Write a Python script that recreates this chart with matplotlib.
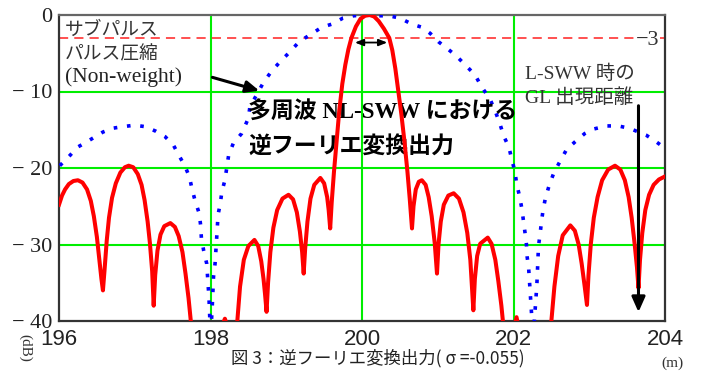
import matplotlib
matplotlib.use("Agg")
import matplotlib.pyplot as plt

plt.rcParams['font.family'] = ['Noto Sans CJK JP', 'DejaVu Sans']

# ---- data ----
red_x = [196.00, 196.04, 196.08, 196.13, 196.19, 196.25, 196.31, 196.37, 196.42, 196.46,
         196.50, 196.53, 196.56, 196.58,
         196.60, 196.63, 196.66, 196.70, 196.75, 196.81, 196.87, 196.92, 196.98, 197.04,
         197.09, 197.13, 197.17, 197.20, 197.23, 197.25,
         197.27, 197.30, 197.34, 197.39, 197.47, 197.53, 197.58, 197.63, 197.67, 197.71,
         197.75, 197.80,
         197.90, 198.05, 198.12, 198.19, 198.25, 198.31,
         198.35, 198.39, 198.44, 198.50, 198.58, 198.63, 198.67, 198.70, 198.72, 198.74,
         198.76, 198.79, 198.83, 198.88, 198.95, 199.03, 199.09, 199.14, 199.18, 199.21,
         199.23,
         199.25, 199.28, 199.32, 199.37, 199.45, 199.50, 199.54, 199.56, 199.58,
         199.60, 199.63, 199.66, 199.70, 199.74, 199.78, 199.82, 199.86, 199.92, 199.98,
         200.04, 200.10, 200.16, 200.22, 200.29, 200.36, 200.40, 200.44, 200.48, 200.52,
         200.56, 200.60, 200.63, 200.66,
         200.68, 200.71, 200.75, 200.79, 200.84, 200.88, 200.92, 200.96, 200.99,
         201.01, 201.04, 201.08, 201.14, 201.21, 201.28, 201.34, 201.39, 201.43, 201.47,
         201.49, 201.52, 201.56, 201.66, 201.71, 201.76, 201.80, 201.84, 201.88, 201.94,
         201.99, 202.04, 202.09, 202.20,
         202.47, 202.50, 202.54, 202.59, 202.65, 202.75, 202.81, 202.86, 202.90, 202.94,
         202.97,
         202.99, 203.02, 203.06, 203.11, 203.17, 203.25, 203.34, 203.41, 203.47, 203.52,
         203.56, 203.60, 203.63, 203.65,
         203.67, 203.70, 203.74, 203.79, 203.85, 203.92, 204.00]
red_db = [-24.8, -23.6, -22.8, -22.1, -21.7, -21.6, -21.9, -22.8, -24.3, -26.3,
          -29.0, -31.8, -34.5, -36.0,
          -33.5, -29.5, -26.5, -23.9, -22.0, -20.6, -19.9, -19.7, -19.9, -20.8,
          -22.2, -24.2, -27.0, -29.8, -33.5, -38.0,
          -34.0, -30.8, -28.7, -27.6, -27.2, -27.7, -28.9, -31.0, -33.8, -37.0,
          -41.0, -50.0,
          -45.0, -48.0, -41.5, -39.7, -41.5, -50.0,
          -40.5, -35.5, -32.0, -30.2, -29.4, -30.2, -32.2, -34.5, -36.5, -38.8,
          -35.0, -31.0, -27.8, -25.5, -24.0, -23.5, -24.1, -25.8, -28.3, -31.0,
          -33.8,
          -30.5, -27.0, -24.0, -22.2, -21.3, -22.0, -23.8, -25.5, -27.9,
          -24.5, -20.5, -17.0, -12.5, -9.0, -6.5, -4.5, -3.0, -1.5, -0.5,
          -0.1, 0.0, -0.2, -0.8, -1.8, -3.0, -4.6, -7.0, -10.0, -13.0,
          -16.5, -20.5, -24.0, -27.9,
          -25.0, -22.8, -21.8, -21.6, -22.2, -23.8, -26.3, -29.8, -33.8,
          -30.0, -27.0, -24.8, -23.6, -23.3, -24.0, -25.8, -28.5, -32.0, -38.6,
          -34.5, -31.5, -29.9, -29.1, -29.9, -32.0, -34.8, -38.0, -42.0, -50.0,
          -42.0, -39.5, -42.0, -55.0,
          -44.0, -40.0, -35.5, -31.5, -28.8, -27.5, -28.2, -30.0, -32.5, -35.5,
          -37.9,
          -34.0, -30.0, -26.5, -23.8, -21.6, -20.2, -19.7, -20.2, -21.6, -23.8,
          -26.5, -30.0, -33.0, -35.7,
          -32.0, -28.5, -25.5, -23.5, -22.2, -21.5, -21.1]

blue_x = [196.01, 196.15, 196.24, 196.33, 196.48, 196.58, 196.71, 196.84, 197.00, 197.14,
          197.28, 197.40, 197.51, 197.58, 197.66, 197.72, 197.76, 197.80, 197.85, 197.87,
          197.88, 197.91, 197.95, 197.97, 197.98, 198.00, 198.02, 198.04, 198.06, 198.08,
          198.10, 198.13, 198.15, 198.19, 198.24, 198.30, 198.41, 198.50, 198.52, 198.60,
          198.70, 198.81, 198.92, 199.04, 199.17, 199.36, 199.47, 199.60, 199.75, 199.89,
          200.04, 200.19, 200.35, 200.50, 200.66, 200.79, 200.90, 201.01, 201.14, 201.25,
          201.38, 201.49, 201.58, 201.69, 201.76, 201.82, 201.87, 201.94, 201.98, 202.02,
          202.04, 202.08, 202.11, 202.13, 202.15, 202.17, 202.18, 202.20, 202.22, 202.24,
          202.26, 202.29, 202.30, 202.31, 202.33, 202.35, 202.37, 202.39, 202.42, 202.47,
          202.53, 202.61, 202.70, 202.81, 202.94, 203.06, 203.23, 203.38, 203.53, 203.65,
          203.75, 203.86, 203.97, 204.00]
blue_db = [-19.7, -18.3, -17.3, -16.8, -15.9, -15.3, -14.8, -14.6, -14.4, -14.6,
           -15.2, -15.9, -17.0, -18.3, -19.7, -21.1, -22.9, -24.4, -25.9, -27.5,
           -29.2, -30.8, -32.5, -35.5, -37.0, -42.0, -38.8, -34.2, -32.5, -29.4,
           -26.1, -24.6, -23.1, -21.6, -18.3, -16.8, -15.5, -13.5, -12.0, -10.6,
           -8.8, -7.3, -6.1, -4.9, -3.5, -2.3, -1.6, -1.2, -0.4, -0.1,
           0.0, -0.1, -0.1, -0.4, -1.2, -1.6, -2.4, -3.5, -4.5, -5.4,
           -6.7, -7.8, -9.4, -11.0, -12.6, -14.2, -15.8, -17.3, -19.0, -20.5,
           -22.0, -23.7, -25.3, -26.8, -28.3, -29.9, -31.6, -33.1, -36.2, -39.3,
           -42.0, -37.9, -36.5, -34.9, -30.2, -28.7, -27.0, -25.5, -24.0, -22.3,
           -20.7, -19.2, -17.6, -16.6, -15.5, -14.9, -14.5, -14.5, -14.8, -15.3,
           -15.7, -16.4, -17.2, -17.4]

x_ticks = [196, 198, 200, 202, 204]
y_ticks = [0, -10, -20, -30, -40]
y_tick_labels = ["0", "\u2212 10", "\u2212 20", "\u2212 30", "\u2212 40"]
ref_level = -3

fig = plt.figure(figsize=(7.01, 3.74), dpi=100)
ax = fig.add_axes([59/701, 1-321/374, 606/701, 306/374])
ax.set_xlim(196, 204)
ax.set_ylim(-40, 0)

grid_c = '#00ee00'
for gx in [198, 200, 202]:
    ax.axvline(gx, color=grid_c, lw=1.5, zorder=1)
for gy in [-10, -20, -30]:
    ax.axhline(gy, color=grid_c, lw=1.5, zorder=1)

ax.axhline(ref_level, color='#ff2020', lw=1.1, ls=(0, (6, 4)), zorder=2)

ax.plot(blue_x, blue_db, color='#0000ff', lw=2.6, ls=(0, (1, 2.7)),
        dash_capstyle='butt', zorder=3)
ax.plot(red_x, red_db, color='#ff0000', lw=2.9, zorder=4, solid_joinstyle='round')

for sp in ax.spines.values():
    sp.set_color('#333333')
    sp.set_linewidth(1.6)
ax.spines['top'].set_color('#666666')

ax.set_xticks(x_ticks)
ax.set_xticklabels([str(t) for t in x_ticks], family='Liberation Sans', fontsize=16,
                   color='#222222')
ax.set_yticks(y_ticks)
ax.set_yticklabels(y_tick_labels, family='Liberation Serif', fontsize=16, color='#222222')
ax.tick_params(axis='both', length=0)
ax.tick_params(axis='x', pad=6)
ax.tick_params(axis='y', pad=5)

# annotations
serif_cjk = ['Liberation Serif', 'Noto Sans CJK JP']
ax.text(196.08, -0.55, "サブパルス", fontsize=13.5, color='#333333', va='top', ha='left',
        family=['Noto Sans CJK JP'])
ax.text(196.08, -3.75, "パルス圧縮", fontsize=13.5, color='#333333', va='top', ha='left',
        family=['Noto Sans CJK JP'])
ax.text(196.08, -6.8, "(Non-weight)", fontsize=15.5, color='#222222', va='top', ha='left',
        family=serif_cjk)
ax.annotate("", xy=(198.68, -10.0), xytext=(197.99, -8.05),
            arrowprops=dict(arrowstyle='-|>,head_length=0.8,head_width=0.35',
                            color='black', lw=2.2), zorder=6)
ax.text(198.5, -12.6, "多周波 NL-SWW における", fontsize=16.5, color='black',
        va='center', ha='left', family=serif_cjk, fontweight='bold')
ax.text(198.5, -17.3, "逆フーリエ変換出力", fontsize=16.5, color='black',
        va='center', ha='left', family=serif_cjk, fontweight='bold')

ax.annotate("", xy=(199.87, -3.6), xytext=(200.37, -3.6),
            arrowprops=dict(arrowstyle='<|-|>,head_length=0.5,head_width=0.2',
                            color='black', lw=1.3), zorder=6)

ax.text(202.15, -7.7, "L-SWW 時の", fontsize=14, color='#333333', va='center',
        ha='left', family=serif_cjk)
ax.text(202.15, -10.8, "GL 出現距離", fontsize=14, color='#333333', va='center',
        ha='left', family=serif_cjk)
ax.annotate("", xy=(203.65, -39.2), xytext=(203.65, -11.5),
            arrowprops=dict(arrowstyle='-|>,head_length=0.9,head_width=0.4',
                            color='black', lw=2.2), zorder=6)

ax.text(203.93, -3.3, "\u22123", fontsize=16, color='#333333', va='center', ha='right',
        family='Liberation Serif', zorder=5,
        bbox=dict(facecolor='white', edgecolor='none', pad=0.3))

fig.text(25/701, 1-348/374, "(dB)", rotation=270, fontsize=11, color='#333333',
         ha='center', va='center', family='Liberation Serif')
fig.text(378/701, 1-358/374, "図 3：逆フーリエ変換出力( σ =-0.055)", fontsize=12.5,
         color='#222222', ha='center', va='center', family=['Noto Sans CJK JP', 'DejaVu Sans'])
fig.text(672/701, 1-363/374, "(m)", fontsize=11, color='#333333', ha='center',
         va='center', family='Liberation Serif')

fig.savefig("out.png", dpi=100)
